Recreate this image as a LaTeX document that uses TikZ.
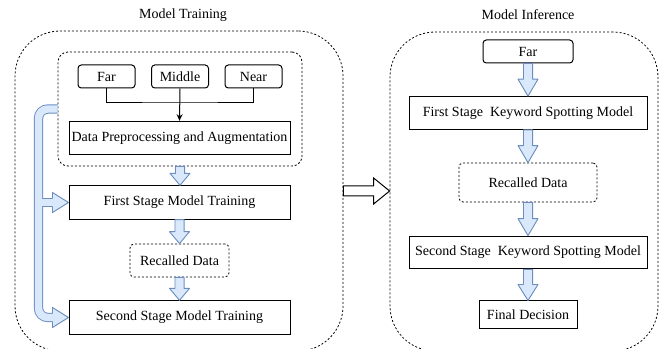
\documentclass[tikz,border=0pt]{standalone}
\usepackage{fontspec}
\setmainfont{Liberation Serif}
\usepackage{tikz}
\usetikzlibrary{calc,arrows.meta}
\definecolor{arrowfill}{HTML}{DAE8FC}
\definecolor{arrowline}{HTML}{6C8EBF}

% fat blue arrow going down from node #1 to node #2, head length #3
\newcommand{\fatdown}[3]{%
    \draw[fatarrow] let \p1=(#1.south), \p2=(#2.north) in
        (\x1-3.4pt,\y1) -- (\x1-3.4pt,\y2+#3) -- (\x1-7.5pt,\y2+#3) -- (\x1,\y2)
        -- (\x1+7.5pt,\y2+#3) -- (\x1+3.4pt,\y2+#3) -- (\x1+3.4pt,\y1) -- cycle;}
% head of the blue band, tip at #1
\newcommand{\bandhead}[1]{%
    \filldraw[fatarrow] ($(#1)+(-12pt,3.15pt)$) -- ($(#1)+(-12pt,7.5pt)$) -- (#1)
        -- ($(#1)+(-12pt,-7.5pt)$) -- ($(#1)+(-12pt,-3.15pt)$);}

\begin{document}
\begin{tikzpicture}[
    x=0.75pt, y=-0.75pt,                 % one unit = one pixel
    font=\rmfamily\fontsize{10.5}{12}\selectfont,
    every node/.style={align=center, inner sep=0pt},
    box/.style={draw, line width=0.75pt, minimum width=165.75pt, minimum height=25pt},
    src/.style={draw, line width=0.75pt, rounded corners=2.5pt,
        minimum width=42.75pt, minimum height=17.25pt},
    group/.style={draw, line width=0.6pt, dash pattern=on 1.5pt off 1.5pt},
    fatarrow/.style={fill=arrowfill, draw=arrowline, line width=0.7pt, line join=round},
    bandedge/.style={draw=arrowline, line width=7pt, rounded corners=7pt},
    bandfill/.style={draw=arrowfill, line width=5.6pt, rounded corners=7pt}
]
\useasboundingbox (0,0) rectangle (661,349);

% training side
\node[group, rounded corners=33.75pt, minimum width=246pt, minimum height=240pt] (train) at (179,191) {};
\node (traintitle) at (183,15) {Model Training};
\node[group, rounded corners=7.5pt, minimum width=183pt, minimum height=85.5pt] (inner) at (180,109) {};
\node[src] (far) at (106.5,76.5) {Far};
\node[src] (middle) at (180,76.5) {Middle};
\node[src] (near) at (253.5,76.5) {Near};
\node[box] (dpa) at (179.5,138) {Data Preprocessing and Augmentation};
\node[box] (first) at (179.5,202.5) {First Stage Model Training};
\node[group, rounded corners=3pt, minimum width=74.25pt, minimum height=24.75pt] (recalled) at (179.5,260.5) {Recalled Data};
\node[box] (second) at (179.5,317.5) {Second Stage Model Training};

% inference side
\node[group, rounded corners=33.75pt, minimum width=201pt, minimum height=239.25pt] (infer) at (524,191.5) {};
\node (infertitle) at (528,15) {Model Inference};
\node[src, minimum width=67.5pt] (farin) at (528,51.5) {Far};
\node[box, minimum width=178.5pt, minimum height=24.5pt] (kwsone) at (528,113) {First Stage\ \ Keyword Spotting Model};
\node[group, rounded corners=3pt, minimum width=103.5pt, minimum height=29.25pt] (recin) at (528,182.5) {Recalled Data};
\node[box, minimum width=178.5pt, minimum height=24.5pt] (kwstwo) at (528,252.5) {Second Stage\ \ Keyword Spotting Model};
\node[box, minimum width=73.5pt, minimum height=20.25pt] (final) at (528,314.5) {Final Decision};

% data sources into preprocessing
\coordinate (join) at (180,103);
\draw[line width=0.75pt] (far.south) |- (join) -| (near.south);
\draw[line width=0.75pt, -{Stealth[length=5pt, width=4.5pt]}] (middle.south) -- (dpa.north);

% blue arrows
\fatdown{inner}{first}{9pt}
\fatdown{first}{recalled}{9pt}
\fatdown{recalled}{second}{9pt}
\fatdown{farin}{kwsone}{12.75pt}
\fatdown{kwsone}{recin}{12.75pt}
\fatdown{recin}{kwstwo}{12.75pt}
\fatdown{kwstwo}{final}{12pt}

% band feeding the data to both stages
\coordinate (bend) at (38.5,0);
\foreach \pass in {bandedge,bandfill} {
    \draw[\pass] (inner.west) -- (bend |- inner.west) |- ([xshift=-11.5pt]second.west);
    \draw[\pass, sharp corners] (bend |- first.west) -- ([xshift=-11.5pt]first.west);
}
\bandhead{first.west}
\bandhead{second.west}

% training to inference
\draw[fill=white, line width=0.75pt] let \p1=(train.east), \p2=(infer.west) in
    (\x1,\y1+3.75pt) -- (\x2-12pt,\y1+3.75pt) -- (\x2-12pt,\y1+9.75pt) -- (\x2,\y1)
    -- (\x2-12pt,\y1-9.75pt) -- (\x2-12pt,\y1-3.75pt) -- (\x1,\y1-3.75pt) -- cycle;

\end{tikzpicture}
\end{document}
